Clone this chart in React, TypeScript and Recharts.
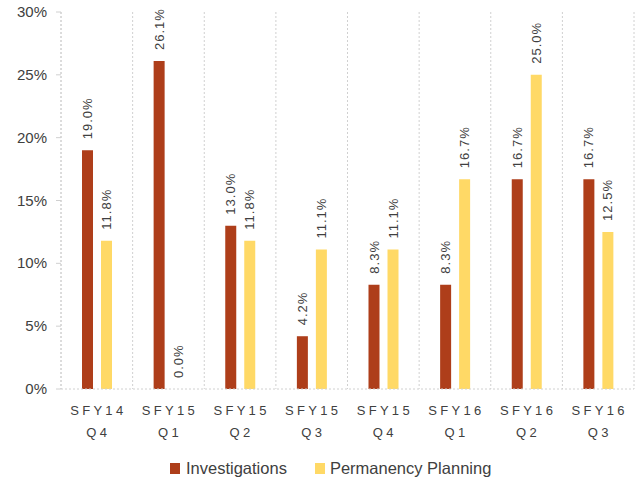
import React from "react";
import { BarChart, Bar, XAxis, YAxis, CartesianGrid, Legend } from "recharts";

const categories = ["SFY14 Q4", "SFY15 Q1", "SFY15 Q2", "SFY15 Q3", "SFY15 Q4", "SFY16 Q1", "SFY16 Q2", "SFY16 Q3"];
const investigations = [19.0, 26.1, 13.0, 4.2, 8.3, 8.3, 16.7, 16.7];
const permanencyPlanning = [11.8, 0.0, 11.8, 11.1, 11.1, 16.7, 25.0, 12.5];
const yTicks = [0, 5, 10, 15, 20, 25, 30];
const seriesNames = ["Investigations", "Permanency Planning"];

const INV = "#AE3E1A";
const PP = "#FFD966";
const TEXT = "#404040";
const FONT = "'Liberation Sans', Arial, sans-serif";

const data = categories.map((c, i) => ({
  name: c,
  inv: investigations[i],
  pp: permanencyPlanning[i],
}));

const XTick = (props: any) => {
  const { x, y, payload } = props;
  const [a, b] = String(payload.value).split(" ");
  return (
    <g transform={`translate(${x + 1.5},${y})`}>
      <text x={0} y={0} textAnchor="middle" fill={TEXT} fontFamily={FONT} fontSize={13} letterSpacing={3.3}>
        <tspan x={0} dy={18}>{a}</tspan>
        <tspan x={0} dy={22}>{b}</tspan>
      </text>
    </g>
  );
};

const YTick = (props: any) => {
  const { x, y, payload } = props;
  return (
    <text x={x} y={y} dy={5} textAnchor="end" fill={TEXT} fontFamily={FONT} fontSize={15}>
      {payload.value}%
    </text>
  );
};

const BarLabel = (props: any) => {
  const { x, y, width, height, value } = props;
  const cx = Number(x) + Number(width) / 2;
  const top = Math.min(Number(y), Number(y) + Number(height || 0));
  const ty = top - 11;
  return (
    <text
      transform={`translate(${cx},${ty}) rotate(-90)`}
      textAnchor="start"
      dominantBaseline="central"
      fill={TEXT}
      fontFamily={FONT}
      fontSize={13}
      letterSpacing={1}
    >
      {Number(value).toFixed(1)}%
    </text>
  );
};

const LegendContent = () => (
  <div
    style={{
      height: 28,
      display: "flex",
      alignItems: "center",
      paddingLeft: 170,
      fontFamily: FONT,
      fontSize: 16.5,
      color: TEXT,
    }}
  >
    <span style={{ width: 10, height: 11, background: INV, display: "inline-block", marginRight: 6 }} />
    <span style={{ marginRight: 28 }}>{seriesNames[0]}</span>
    <span style={{ width: 10, height: 11, background: PP, display: "inline-block", marginRight: 5 }} />
    <span>{seriesNames[1]}</span>
  </div>
);

export default function App() {
  return (
    <div style={{ position: "absolute", left: 0, top: 0, background: "#fff" }}>
      <BarChart
        width={639}
        height={482}
        data={data}
        margin={{ top: 12, right: 5, left: 0, bottom: 5 }}
        barSize={11}
        barGap={8}
      >
        <CartesianGrid
          horizontal={false}
          vertical={true}
          stroke="#d0d0d0"
          strokeDasharray="2 2"
          verticalCoordinatesGenerator={({ offset }: any) =>
            Array.from({ length: categories.length + 1 }, (_, i) => offset.left + (offset.width * i) / categories.length)
          }
        />
        <XAxis
          dataKey="name"
          interval={0}
          height={60}
          tick={<XTick />}
          tickLine={false}
          axisLine={{ stroke: "#d0d0d0", strokeDasharray: "2 2" }}
        />
        <YAxis
          width={61}
          domain={[0, 30]}
          ticks={yTicks}
          tick={<YTick />}
          tickSize={5}
          tickMargin={9}
          tickLine={{ stroke: "#d0d0d0" }}
          axisLine={{ stroke: "#d0d0d0", strokeDasharray: "2 2" }}
          interval={0}
        />
        <Legend
          verticalAlign="bottom"
          height={28}
          content={<LegendContent />}
          wrapperStyle={{ left: 0, width: 639, bottom: 0 }}
        />
        <Bar dataKey="inv" name={seriesNames[0]} fill={INV} isAnimationActive={false} label={<BarLabel />} minPointSize={0.01} />
        <Bar dataKey="pp" name={seriesNames[1]} fill={PP} isAnimationActive={false} label={<BarLabel />} minPointSize={0.01} />
      </BarChart>
    </div>
  );
}
